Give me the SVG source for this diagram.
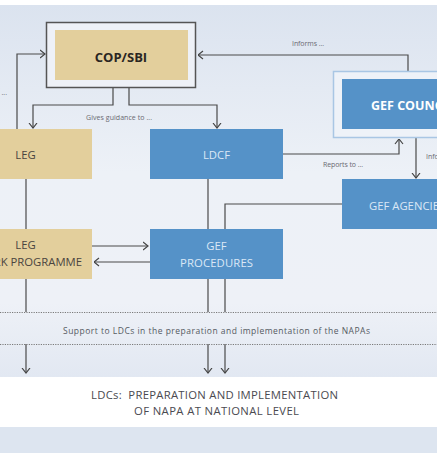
<svg xmlns="http://www.w3.org/2000/svg" width="437" height="461" viewBox="0 0 437 461">
<defs>
<linearGradient id="bg" x1="0" y1="0" x2="0" y2="1">
<stop offset="0" stop-color="#dbe3ef"/>
<stop offset="0.45" stop-color="#edf1f7"/>
<stop offset="0.8" stop-color="#eef1f7"/>
<stop offset="1" stop-color="#e2e8f2"/>
</linearGradient>
<marker id="ah" viewBox="0 0 6 10" refX="5.5" refY="5" markerWidth="6" markerHeight="10" markerUnits="userSpaceOnUse" orient="auto">
<path d="M0.5,1 L5.5,5 L0.5,9" fill="none" stroke="#444" stroke-width="1.2"/>
</marker>
</defs>
<style>
.ln{fill:none;stroke:#4a4a4a;stroke-width:1.2}
.ar{fill:none;stroke:#4a4a4a;stroke-width:1.2;marker-end:url(#ah)}
.dot{fill:none;stroke:#7a7a7a;stroke-width:1;stroke-dasharray:1.2,1.2}
.tan{fill:#e3cf9c}
.blue{fill:#5592c8}
.lbl{font-family:"Open Sans","Liberation Sans",sans-serif;font-size:11.3px}
.dark{fill:#4a4540}
.light{fill:#dbe8f6}
.small{font-family:"Open Sans","Liberation Sans",sans-serif;font-size:7px;fill:#6a6a72}
</style>
<rect x="0" y="0" width="437" height="461" fill="#ffffff"/>
<rect x="0" y="5" width="437" height="372" fill="url(#bg)"/>
<rect x="0" y="427" width="437" height="26" fill="#dde5f0"/>

<g id="connectors">
<path class="ar" d="M113,88 V105 H33 V128"/>
<path class="ar" d="M129,88 V105 H217 V128"/>
<path class="ar" d="M17,129 V54 H45"/>
<path class="ar" d="M408,71 V55 H198"/>
<path class="ar" d="M283,154 H399 V139"/>
<path class="ar" d="M416,138 V178"/>
<path class="ln" d="M342,204 H225 V312"/>
<path class="ln" d="M208,179 V312"/>
<path class="ln" d="M26,179 V312"/>
<path class="ar" d="M92,246 H148"/>
<path class="ar" d="M150,262 H94"/>
<path class="ar" d="M26,344 V373"/>
<path class="ar" d="M208,344 V373"/>
<path class="ar" d="M225,344 V373"/>
<path class="dot" d="M0,312.5 H437"/>
<path class="dot" d="M0,344.5 H437"/>
<text class="small" x="119" y="120" text-anchor="middle" textLength="66">Gives guidance to ...</text>
<text class="small" x="292" y="46" textLength="32">Informs ...</text>
<text class="small" x="323" y="167" textLength="40">Reports to ...</text>
<text class="small" x="426" y="159">Informs ...</text>
<text class="small" x="7" y="95" text-anchor="end">...</text>
</g>

<g id="cop-sbi">
<rect x="46.5" y="22.5" width="149" height="65" fill="#eef1f7" stroke="#555" stroke-width="1.5"/>
<rect class="tan" x="55" y="30" width="133" height="50"/>
<text x="121" y="62" text-anchor="middle" font-family="'Open Sans','Liberation Sans',sans-serif" font-weight="bold" font-size="13" fill="#2a2622">COP/SBI</text>
</g>

<g id="gef-council">
<rect x="333.5" y="71.5" width="120" height="66" fill="#eef2f8" stroke="#a9c6e4" stroke-width="1.5"/>
<rect class="blue" x="342" y="79" width="110" height="50"/>
<text x="371" y="110" font-family="'Open Sans','Liberation Sans',sans-serif" font-weight="bold" font-size="12.5" fill="#ffffff">GEF COUNCIL</text>
</g>

<g id="leg">
<rect class="tan" x="-5" y="129" width="97" height="50"/>
<text class="lbl dark" x="25.5" y="159" text-anchor="middle">LEG</text>
</g>

<g id="ldcf">
<rect class="blue" x="150" y="129" width="133" height="50"/>
<text class="lbl light" x="216.5" y="159" text-anchor="middle">LDCF</text>
</g>

<g id="gef-agencies">
<rect class="blue" x="342" y="179" width="110" height="50"/>
<text class="lbl light" x="369" y="210" font-size="12">GEF AGENCIES</text>
</g>

<g id="leg-work-programme">
<rect class="tan" x="-5" y="229" width="97" height="50"/>
<text class="lbl dark" x="25.5" y="249" text-anchor="middle">LEG</text>
<text class="lbl dark" x="82" y="266" text-anchor="end">WORK PROGRAMME</text>
</g>

<g id="gef-procedures">
<rect class="blue" x="150" y="229" width="133" height="50"/>
<text class="lbl light" x="216.5" y="250" text-anchor="middle">GEF</text>
<text class="lbl light" x="216.5" y="267" text-anchor="middle" textLength="73">PROCEDURES</text>
</g>

<g id="support">
<text x="216.5" y="334" text-anchor="middle" font-family="'Open Sans','Liberation Sans',sans-serif" font-size="8.5" fill="#555a62" textLength="307">Support to LDCs in the preparation and implementation of the NAPAs</text>
</g>

<g id="ldcs">
<rect x="0" y="377" width="437" height="50" fill="#ffffff"/>
<text x="214.5" y="399" text-anchor="middle" font-family="'Open Sans','Liberation Sans',sans-serif" font-size="11.3" fill="#4a4a50" textLength="247" xml:space="preserve">LDCs:  PREPARATION AND IMPLEMENTATION</text>
<text x="216.5" y="415" text-anchor="middle" font-family="'Open Sans','Liberation Sans',sans-serif" font-size="11.3" fill="#4a4a50" textLength="165">OF NAPA AT NATIONAL LEVEL</text>
</g>
</svg>
